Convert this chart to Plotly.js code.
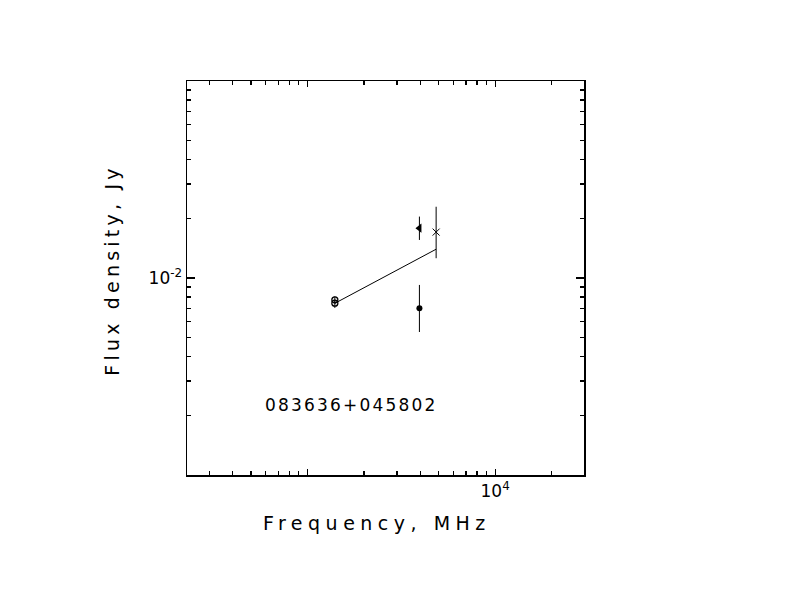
<!DOCTYPE html>
<html>
<head>
<meta charset="utf-8">
<script src="https://cdn.plot.ly/plotly-3.0.1.min.js"></script>
<style>
  html, body { margin: 0; padding: 0; background: #fff; }
  .annotation-text { letter-spacing: 2.2px; }
  g.annotation[data-index="1"] .annotation-text { letter-spacing: 5.5px; }
  g.annotation[data-index="2"] .annotation-text { letter-spacing: 4.2px; }
</style>
</head>
<body>
<div id="chart" style="width:792px;height:612px;"></div>
<script>
// Data (frequency in MHz, flux density in Jy)
const circFreq = [1400, 1400];
const circFlux = [0.00775, 0.00745];
const circErrUp = [0.0003, 0.0003];
const circErrDn = [0.0003, 0.0004];

const triFreq = [3950];
const triFlux = [0.0179];
const triErrUp = [0.0026];
const triErrDn = [0.0023];

const dotFreq = [3950];
const dotFlux = [0.00702];
const dotErrUp = [0.0022];
const dotErrDn = [0.0017];

const crossFreq = [4850];
const crossFlux = [0.0171];
const crossErrUp = [0.0059];
const crossErrDn = [0.0045];

const fitFreq = [1400, 4850];
const fitFlux = [0.00744, 0.0140];

const sourceName = "083636+045802";
const xTitle = "Frequency, MHz";
const yTitle = "Flux density, Jy";

const xMajorTicks = [1000, 10000];
const xMajorLabels = ["", "10<sup>4</sup>"];
const xMinorTicks = [300, 400, 500, 600, 700, 800, 900, 2000, 3000, 4000, 5000, 6000, 7000, 8000, 9000, 20000];
const yMajorTicks = [0.01];
const yMajorLabels = ["10<sup>-2</sup>"];
const yMinorTicks = [0.002, 0.003, 0.004, 0.005, 0.006, 0.007, 0.008, 0.009, 0.02, 0.03, 0.04, 0.05, 0.06, 0.07, 0.08, 0.09];

const font = "DejaVu Sans, sans-serif";
const xRange = [2.3585, 4.4734];
const yRange = [-3, -1];

const errStyle = {type: 'data', symmetric: false, width: 0, thickness: 1, color: '#000'};

const traces = [
  {x: fitFreq, y: fitFlux, mode: 'lines', line: {color: '#000', width: 1}, hoverinfo: 'skip'},
  {x: circFreq, y: circFlux, mode: 'markers',
   marker: {symbol: 'circle-open', size: 6, color: '#000', line: {width: 1.3, color: '#000'}},
   error_y: Object.assign({}, errStyle, {array: circErrUp, arrayminus: circErrDn})},
  {x: triFreq, y: triFlux, mode: 'markers',
   marker: {symbol: 'triangle-left', size: 8, color: '#000'},
   error_y: Object.assign({}, errStyle, {array: triErrUp, arrayminus: triErrDn})},
  {x: dotFreq, y: dotFlux, mode: 'markers',
   marker: {symbol: 'circle', size: 6, color: '#000'},
   error_y: Object.assign({}, errStyle, {array: dotErrUp, arrayminus: dotErrDn})},
  {x: crossFreq, y: crossFlux, mode: 'markers',
   marker: {symbol: 'x-thin-open', size: 7, color: '#000', line: {width: 1, color: '#000'}},
   error_y: Object.assign({}, errStyle, {array: crossErrUp, arrayminus: crossErrDn})},
  // invisible trace to activate the mirrored (top/right) tick axes
  {x: fitFreq, y: fitFlux, xaxis: 'x2', yaxis: 'y2', mode: 'markers', marker: {opacity: 0}, hoverinfo: 'skip'}
];

const axisCommon = {
  showgrid: false, zeroline: false, showline: true, linecolor: '#000', linewidth: 1.5,
  ticks: 'inside', tickcolor: '#000', tickwidth: 1.2,
  tickfont: {family: font, size: 17, color: '#000'}
};
const xMinor = {tickmode: 'array', tickvals: xMinorTicks, ticks: 'inside', ticklen: 4, tickcolor: '#000', tickwidth: 1.2};
const yMinor = {tickmode: 'array', tickvals: yMinorTicks, ticks: 'inside', ticklen: 4, tickcolor: '#000', tickwidth: 1.2};

const layout = {
  width: 792, height: 612,
  margin: {l: 187, r: 208, t: 81, b: 137},
  paper_bgcolor: '#fff', plot_bgcolor: '#fff',
  showlegend: false,
  xaxis: Object.assign({}, axisCommon, {
    type: 'log', range: xRange,
    tickmode: 'array', tickvals: xMajorTicks, ticktext: xMajorLabels, ticklen: 6,
    minor: xMinor
  }),
  yaxis: Object.assign({}, axisCommon, {
    type: 'log', range: yRange,
    tickmode: 'array', tickvals: yMajorTicks, ticktext: yMajorLabels, ticklen: 8,
    minor: yMinor
  }),
  xaxis2: Object.assign({}, axisCommon, {
    type: 'log', range: xRange, overlaying: 'x', side: 'top', anchor: 'y',
    tickmode: 'array', tickvals: xMajorTicks, ticktext: ["", ""], showticklabels: false, ticklen: 6,
    minor: xMinor
  }),
  yaxis2: Object.assign({}, axisCommon, {
    type: 'log', range: yRange, overlaying: 'y', side: 'right', anchor: 'x',
    tickmode: 'array', tickvals: yMajorTicks, ticktext: [""], showticklabels: false, ticklen: 8,
    minor: yMinor
  }),
  annotations: [
    {text: sourceName, xref: 'paper', yref: 'paper', x: 0.414, y: 0.177,
     xanchor: 'center', yanchor: 'middle', showarrow: false,
     font: {family: font, size: 17, color: '#000'}},
    {text: xTitle, xref: 'paper', yref: 'paper', x: 0.4793, y: -0.1226,
     xanchor: 'center', yanchor: 'middle', showarrow: false,
     font: {family: font, size: 19, color: '#000'}},
    {text: yTitle, xref: 'paper', yref: 'paper', x: -0.188, y: 0.5195, textangle: -90,
     xanchor: 'center', yanchor: 'middle', showarrow: false,
     font: {family: font, size: 19, color: '#000'}}
  ]
};

Plotly.newPlot('chart', traces, layout, {staticPlot: true, displayModeBar: false});
</script>
</body>
</html>
